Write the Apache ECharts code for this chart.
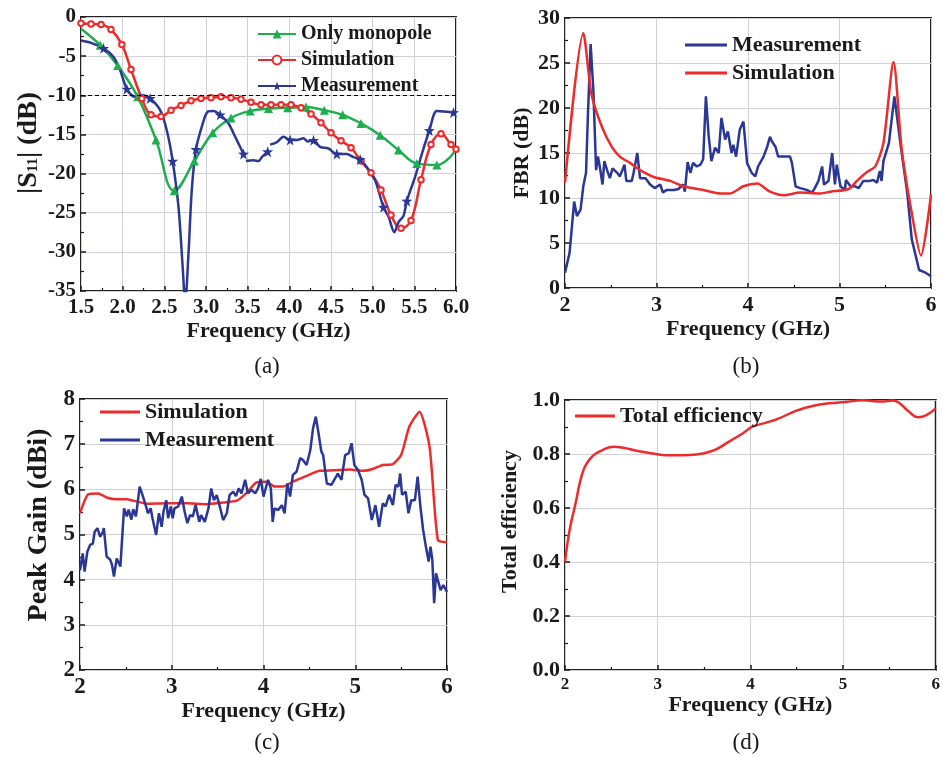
<!DOCTYPE html>
<html>
<head>
<meta charset="utf-8">
<script src="https://cdn.jsdelivr.net/npm/echarts@6/dist/echarts.min.js"></script>
<style>html,body{margin:0;padding:0;background:#fff;}#c{width:943px;height:757px;}</style>
</head>
<body>
<div id="c"></div>
<script>
// ---------- DATA ----------
// (a) |S11| (dB) vs Frequency (GHz)
const monoA = [[1.5,-1.5],[1.73,-3.6],[1.94,-6.2],[2.18,-10.2],[2.40,-15.7],[2.62,-22.2],[2.86,-18.4],[3.08,-14.8],[3.30,-12.9],[3.53,-12.0],[3.75,-11.7],[3.98,-11.6],[4.20,-11.5],[4.42,-11.9],[4.64,-12.5],[4.86,-13.6],[5.09,-15.1],[5.31,-17.0],[5.53,-18.7],[5.77,-18.9],[6.0,-17.0]];
const simA = [[1.5,-0.8],[1.62,-0.9],[1.74,-0.95],[1.86,-1.6],[1.99,-3.5],[2.10,-6.7],[2.23,-10.4],[2.34,-12.5],[2.46,-12.7],[2.58,-11.9],[2.70,-11.3],[2.82,-10.7],[2.94,-10.4],[3.06,-10.3],[3.18,-10.2],[3.30,-10.3],[3.42,-10.5],[3.54,-10.9],[3.66,-11.2],[3.78,-11.2],[3.90,-11.2],[4.02,-11.2],[4.14,-11.6],[4.26,-12.4],[4.38,-13.5],[4.50,-14.8],[4.62,-15.8],[4.74,-16.7],[4.86,-18.4],[4.98,-19.9],[5.10,-22.1],[5.22,-25.3],[5.34,-27.0],[5.46,-26.0],[5.58,-20.8],[5.70,-16.3],[5.82,-14.9],[5.94,-16.3],[6.0,-16.9]];
const measA = [[1.5,-3.0],[1.62,-3.3],[1.77,-4.0],[1.89,-5.1],[1.97,-6.8],[2.05,-9.2],[2.15,-10.2],[2.23,-10.0],[2.33,-10.4],[2.45,-11.9],[2.53,-14.5],[2.60,-18.4],[2.67,-24.3],[2.72,-31.9],[2.75,-36.5],[2.79,-30.2],[2.83,-22.0],[2.88,-16.9],[2.95,-14.0],[3.02,-12.1],[3.09,-12.0],[3.17,-12.5],[3.27,-13.6],[3.35,-15.3],[3.41,-16.6],[3.45,-17.5],[3.465,null],[3.48,-18.4],[3.57,-18.3],[3.63,-18.4],[3.67,-17.9],[3.74,-17.2],[3.755,null],[3.77,-16.3],[3.85,-16.0],[3.93,-15.3],[4.01,-15.7],[4.09,-15.7],[4.17,-15.5],[4.22,-15.9],[4.29,-15.75],[4.37,-16.6],[4.47,-16.8],[4.57,-17.5],[4.69,-17.5],[4.77,-17.9],[4.85,-18.2],[4.93,-19.2],[5.03,-20.9],[5.13,-24.3],[5.19,-25.5],[5.26,-27.5],[5.31,-26.2],[5.37,-25.4],[5.41,-23.5],[5.51,-20.4],[5.59,-17.5],[5.68,-14.5],[5.77,-12.0],[5.89,-12.1],[5.97,-12.2],[6.0,-12.2]];
const starFreqA = [1.77,2.05,2.33,2.60,2.88,3.17,3.45,3.74,4.01,4.29,4.57,4.85,5.13,5.41,5.68,5.97];
const refLineA = -10;

// (b) FBR (dB)
const measB = [[2.0,1.7],[2.05,3.9],[2.10,9.6],[2.13,8.0],[2.17,8.7],[2.20,11.3],[2.23,12.8],[2.25,19.1],[2.28,27.1],[2.31,22.0],[2.34,13.1],[2.36,14.6],[2.38,13.5],[2.41,11.5],[2.43,14.1],[2.46,13.1],[2.49,12.2],[2.52,13.3],[2.57,12.8],[2.60,12.4],[2.65,13.7],[2.67,11.9],[2.73,11.9],[2.75,12.8],[2.79,15.0],[2.82,12.2],[2.88,12.2],[2.93,11.5],[2.98,11.1],[3.04,11.5],[3.07,10.6],[3.11,10.9],[3.19,10.9],[3.24,11.0],[3.29,11.5],[3.31,10.7],[3.34,14.0],[3.37,12.8],[3.40,13.9],[3.44,13.5],[3.48,13.7],[3.51,14.3],[3.54,21.3],[3.57,16.9],[3.60,14.1],[3.64,15.6],[3.68,15.0],[3.71,18.9],[3.75,16.5],[3.78,17.4],[3.82,15.0],[3.84,15.9],[3.87,14.6],[3.91,17.6],[3.95,18.5],[3.99,13.9],[4.04,12.8],[4.08,12.4],[4.11,13.5],[4.17,14.6],[4.21,15.7],[4.24,16.8],[4.26,16.3],[4.30,15.7],[4.33,14.6],[4.41,14.6],[4.46,14.6],[4.48,13.9],[4.52,11.3],[4.57,11.1],[4.64,10.9],[4.70,10.6],[4.73,11.1],[4.77,11.9],[4.81,13.5],[4.83,11.5],[4.88,11.9],[4.92,15.0],[4.95,11.5],[4.97,13.7],[5.01,11.3],[5.06,10.9],[5.07,12.0],[5.12,11.3],[5.17,11.3],[5.21,11.1],[5.26,11.9],[5.33,11.9],[5.37,12.0],[5.41,11.7],[5.44,13.0],[5.46,11.9],[5.48,14.1],[5.54,16.1],[5.60,21.3],[5.67,15.7],[5.74,10.6],[5.79,5.4],[5.87,2.0],[5.94,1.7],[6.0,1.3]];
const simB = [[2.0,11.7],[2.2,28.3],[2.29,21.5],[2.40,18.0],[2.51,15.7],[2.60,14.6],[2.71,13.9],[2.82,13.1],[2.98,12.3],[3.15,11.9],[3.29,11.3],[3.51,10.9],[3.70,10.5],[3.80,10.5],[3.95,11.3],[4.10,11.6],[4.24,10.7],[4.39,10.3],[4.57,10.6],[4.79,10.5],[4.90,10.7],[5.10,11.0],[5.19,11.9],[5.30,12.9],[5.39,13.5],[5.48,16.1],[5.59,25.1],[5.68,15.4],[5.79,8.3],[5.89,3.6],[6.0,10.4]];

// (c) Peak Gain (dBi)
const simC = [[2.0,5.47],[2.09,5.89],[2.20,5.91],[2.29,5.82],[2.40,5.78],[2.51,5.78],[2.62,5.73],[2.73,5.68],[2.94,5.69],[3.16,5.69],[3.38,5.67],[3.56,5.71],[3.71,5.75],[3.81,5.91],[3.92,6.15],[4.03,6.17],[4.11,6.07],[4.21,6.06],[4.32,6.17],[4.47,6.30],[4.61,6.41],[4.76,6.42],[4.94,6.44],[5.09,6.41],[5.19,6.45],[5.30,6.54],[5.41,6.56],[5.50,6.76],[5.59,7.39],[5.70,7.72],[5.81,6.94],[5.90,4.88],[6.0,4.83]];
const measC = [[2.0,4.21],[2.03,4.58],[2.05,4.18],[2.08,4.62],[2.11,4.77],[2.14,4.80],[2.16,5.06],[2.19,5.14],[2.22,4.95],[2.25,5.06],[2.26,5.14],[2.29,4.51],[2.33,4.44],[2.35,4.32],[2.37,4.07],[2.40,4.47],[2.42,4.47],[2.44,4.29],[2.48,5.58],[2.51,5.40],[2.53,5.55],[2.56,5.33],[2.58,5.56],[2.61,5.40],[2.65,6.06],[2.68,5.88],[2.72,5.62],[2.74,5.47],[2.77,5.58],[2.79,5.36],[2.83,4.99],[2.86,5.47],[2.89,5.17],[2.91,5.51],[2.94,5.76],[2.96,5.36],[2.99,5.62],[3.01,5.36],[3.03,5.58],[3.07,5.62],[3.11,5.84],[3.14,5.51],[3.17,5.25],[3.20,5.43],[3.23,5.40],[3.26,5.65],[3.30,5.28],[3.32,5.43],[3.36,5.28],[3.40,5.58],[3.43,6.02],[3.46,5.76],[3.49,5.87],[3.52,5.65],[3.56,5.32],[3.60,5.47],[3.63,5.87],[3.67,5.95],[3.70,5.85],[3.73,6.02],[3.76,5.91],[3.80,6.21],[3.83,5.91],[3.87,5.99],[3.91,5.91],[3.94,6.02],[3.97,6.23],[4.00,5.84],[4.02,5.99],[4.05,6.21],[4.08,6.02],[4.10,5.28],[4.12,5.58],[4.16,5.54],[4.20,5.65],[4.23,5.47],[4.26,6.13],[4.29,5.84],[4.32,6.32],[4.36,6.39],[4.40,6.69],[4.43,6.65],[4.47,6.54],[4.51,6.87],[4.54,7.35],[4.57,7.61],[4.60,7.24],[4.63,6.84],[4.65,6.76],[4.69,6.13],[4.74,6.10],[4.78,6.24],[4.81,6.35],[4.85,6.21],[4.89,6.76],[4.93,6.80],[4.96,7.02],[4.99,6.54],[5.03,6.43],[5.07,6.21],[5.10,5.88],[5.14,5.80],[5.18,5.32],[5.22,5.65],[5.26,5.17],[5.30,5.69],[5.33,5.62],[5.37,5.88],[5.41,5.65],[5.44,6.10],[5.47,6.06],[5.49,6.35],[5.51,5.88],[5.55,5.95],[5.58,5.47],[5.61,5.76],[5.65,5.76],[5.68,6.28],[5.71,5.62],[5.74,5.10],[5.77,4.73],[5.80,4.40],[5.82,4.73],[5.84,4.44],[5.86,3.48],[5.88,4.14],[5.93,3.77],[5.96,3.88],[6.0,3.73]];

// (d) Total efficiency
const effD = [[2.0,0.401],[2.05,0.519],[2.11,0.611],[2.2,0.741],[2.3,0.793],[2.41,0.815],[2.52,0.827],[2.63,0.823],[2.77,0.812],[2.98,0.800],[3.13,0.795],[3.34,0.796],[3.49,0.802],[3.63,0.817],[3.77,0.846],[3.92,0.877],[4.02,0.901],[4.17,0.916],[4.31,0.932],[4.49,0.960],[4.67,0.978],[4.85,0.988],[5.03,0.993],[5.21,0.999],[5.42,0.994],[5.53,0.998],[5.60,0.991],[5.71,0.957],[5.81,0.936],[5.90,0.944],[6.0,0.969]];

const legendNames = {a_mono:'Only monopole', a_sim:'Simulation', a_meas:'Measurement', b_meas:'Measurement', b_sim:'Simulation', c_sim:'Simulation', c_meas:'Measurement', d_eff:'Total efficiency'};
const captions = ['(a)','(b)','(c)','(d)'];

// ---------- STYLE ----------
const FONT = '"Liberation Serif","Times New Roman",serif';
const INK = '#1a1a1a';
const RED = '#ee2b2b', BLUE = '#2b3794', GREEN = '#1fae4f';
const STAR = 'path://M0,-10L2.35,-3.24L9.51,-3.09L3.8,1.24L5.88,8.09L0,4L-5.88,8.09L-3.8,1.24L-9.51,-3.09L-2.35,-3.24Z';

const toData = arr => arr.map(p => [p[0], p[1] === null ? '-' : p[1]]);

function xAx(gi, min, max, interval, fmt, fs, gap) {
  return {
    type:'value', gridIndex:gi, min, max, interval,
    name:'Frequency (GHz)', nameLocation:'middle', nameGap:gap,
    nameTextStyle:{fontFamily:FONT, fontWeight:'bold', fontSize:22, color:INK},
    axisLine:{show:false, onZero:false},
    axisTick:{show:true, inside:true, length:5, lineStyle:{color:INK, width:1.5}},
    minorTick:{show:true, splitNumber:2, length:3, lineStyle:{color:INK, width:1.2}},
    axisLabel:{fontFamily:FONT, fontWeight:'bold', fontSize:fs, color:INK, margin:6, formatter:fmt},
    splitLine:{show:true, lineStyle:{color:'#cfd0d8', width:1}}
  };
}
function yAx(gi, min, max, interval, name, fmt, fs, gap, nameFs, padLeft, rich) {
  return {
    type:'value', gridIndex:gi, min, max, interval,
    name, nameLocation:'middle', nameGap:gap, nameRotate:90,
    nameTextStyle:{fontFamily:FONT, fontWeight:'bold', fontSize:nameFs, color:INK, padding:[0,0,0,padLeft], rich:rich||{}},
    axisLine:{show:false, onZero:false},
    axisTick:{show:true, inside:true, length:5, lineStyle:{color:INK, width:1.5}},
    minorTick:{show:true, splitNumber:2, length:3, lineStyle:{color:INK, width:1.2}},
    axisLabel:{fontFamily:FONT, fontWeight:'bold', fontSize:fs, color:INK, margin:5, formatter:fmt},
    splitLine:{show:true, lineStyle:{color:'#cfd0d8', width:1}}
  };
}
const gridBase = {show:true, borderColor:'#222', borderWidth:2, backgroundColor:'transparent', containLabel:false};
const legText = fs => ({fontFamily:FONT, fontWeight:'bold', fontSize:fs, color:INK});

const option = {
  animation:false,
  backgroundColor:'#fff',
  grid:[
    Object.assign({left:81, top:17, width:375, height:274}, gridBase),
    Object.assign({left:565, top:18, width:366, height:270}, gridBase),
    Object.assign({left:80, top:399, width:367, height:271}, gridBase),
    Object.assign({left:565, top:400, width:372, height:270}, gridBase)
  ],
  xAxis:[
    xAx(0, 1.5, 6.0, 0.5, v => v.toFixed(1), 21, 29),
    xAx(1, 2, 6, 1, v => String(v), 22, 30),
    xAx(2, 2, 6, 1, v => String(v), 23, 29),
    xAx(3, 2, 6, 1, v => String(v), 17, 24)
  ],
  yAxis:[
    yAx(0, -35, 0, 5, '|S{s|11}| (dB)', v => String(v), 21, 38, 28, 22,
        {s:{fontFamily:FONT, fontWeight:'bold', fontSize:15, color:INK, verticalAlign:'bottom', padding:[0,0,2,0]}}),
    yAx(1, 0, 30, 5, 'FBR (dB)', v => String(v), 22, 32, 22, 0),
    yAx(2, 2, 8, 1, 'Peak Gain (dBi)', v => String(v), 23, 27, 28, 19),
    yAx(3, 0, 1, 0.2, 'Total efficiency', v => v.toFixed(1), 22, 44, 22, 27)
  ],
  legend:[
    {left:257, top:24, orient:'vertical', itemGap:6, itemWidth:38, itemHeight:11, itemTextGap:4, padding:0,
     data:['a_mono','a_sim','a_meas'], formatter:n => legendNames[n], textStyle:legText(20), selectedMode:false},
    {left:685, top:34, orient:'vertical', itemGap:6, itemWidth:42, itemHeight:3, itemTextGap:7, padding:0, icon:'rect',
     data:['b_meas','b_sim'], formatter:n => legendNames[n], textStyle:legText(22), selectedMode:false},
    {left:100, top:401, orient:'vertical', itemGap:6, itemWidth:40, itemHeight:3, itemTextGap:4, padding:0, icon:'rect',
     data:['c_sim','c_meas'], formatter:n => legendNames[n], textStyle:legText(22), selectedMode:false},
    {left:575, top:405, orient:'vertical', itemGap:6, itemWidth:40, itemHeight:3, itemTextGap:5, padding:0, icon:'rect',
     data:['d_eff'], formatter:n => legendNames[n], textStyle:legText(22), selectedMode:false}
  ],
  series:[
    {name:'a_mono', type:'line', xAxisIndex:0, yAxisIndex:0, smooth:0.4, symbol:'triangle', symbolSize:9,
     data: toData(monoA).map((p,i,a) => (i===0||i===a.length-1) ? {value:p, symbol:'none'} : p),
     lineStyle:{width:2.5, color:GREEN}, itemStyle:{color:GREEN},
     markLine:{silent:true, symbol:['none','none'], label:{show:false}, lineStyle:{type:[4,3], color:'#000', width:1}, data:[{yAxis:refLineA}]}},
    {name:'a_sim', type:'line', xAxisIndex:0, yAxisIndex:0, smooth:0.4, symbol:'emptyCircle', symbolSize:5.5,
     data: toData(simA), lineStyle:{width:2.5, color:RED}, itemStyle:{color:RED, borderWidth:2.2}},
    {name:'a_meas', type:'line', xAxisIndex:0, yAxisIndex:0, smooth:0.3, symbol:STAR, symbolSize:11, connectNulls:false,
     data: toData(measA).map(p => starFreqA.indexOf(p[0]) >= 0 ? p : {value:p, symbol:'none'}),
     lineStyle:{width:2.5, color:BLUE}, itemStyle:{color:BLUE}},
    {name:'b_meas', type:'line', xAxisIndex:1, yAxisIndex:1, symbol:'none', data:toData(measB), lineStyle:{width:2.5, color:BLUE}, itemStyle:{color:BLUE}},
    {name:'b_sim', type:'line', xAxisIndex:1, yAxisIndex:1, symbol:'none', smooth:0.25, data:toData(simB), lineStyle:{width:2.5, color:RED}, itemStyle:{color:RED}},
    {name:'c_sim', type:'line', xAxisIndex:2, yAxisIndex:2, symbol:'none', smooth:0.2, data:toData(simC), lineStyle:{width:2.5, color:RED}, itemStyle:{color:RED}},
    {name:'c_meas', type:'line', xAxisIndex:2, yAxisIndex:2, symbol:'none', data:toData(measC), lineStyle:{width:2.5, color:BLUE}, itemStyle:{color:BLUE}},
    {name:'d_eff', type:'line', xAxisIndex:3, yAxisIndex:3, symbol:'none', smooth:0.4, data:toData(effD), lineStyle:{width:2.5, color:RED}, itemStyle:{color:RED}}
  ]
};
// captions under each panel
const capPos = [[267,367],[746,367],[267,743],[746,743]];
option.graphic = captions.map((t,i) => ({
  type:'text', x:capPos[i][0], y:capPos[i][1],
  style:{text:t, fontFamily:FONT, fontSize:23, fill:INK, align:'center', verticalAlign:'middle'}
}));

const chart = echarts.init(document.getElementById('c'), null, {renderer:'canvas'});
chart.setOption(option);
</script>
</body>
</html>
